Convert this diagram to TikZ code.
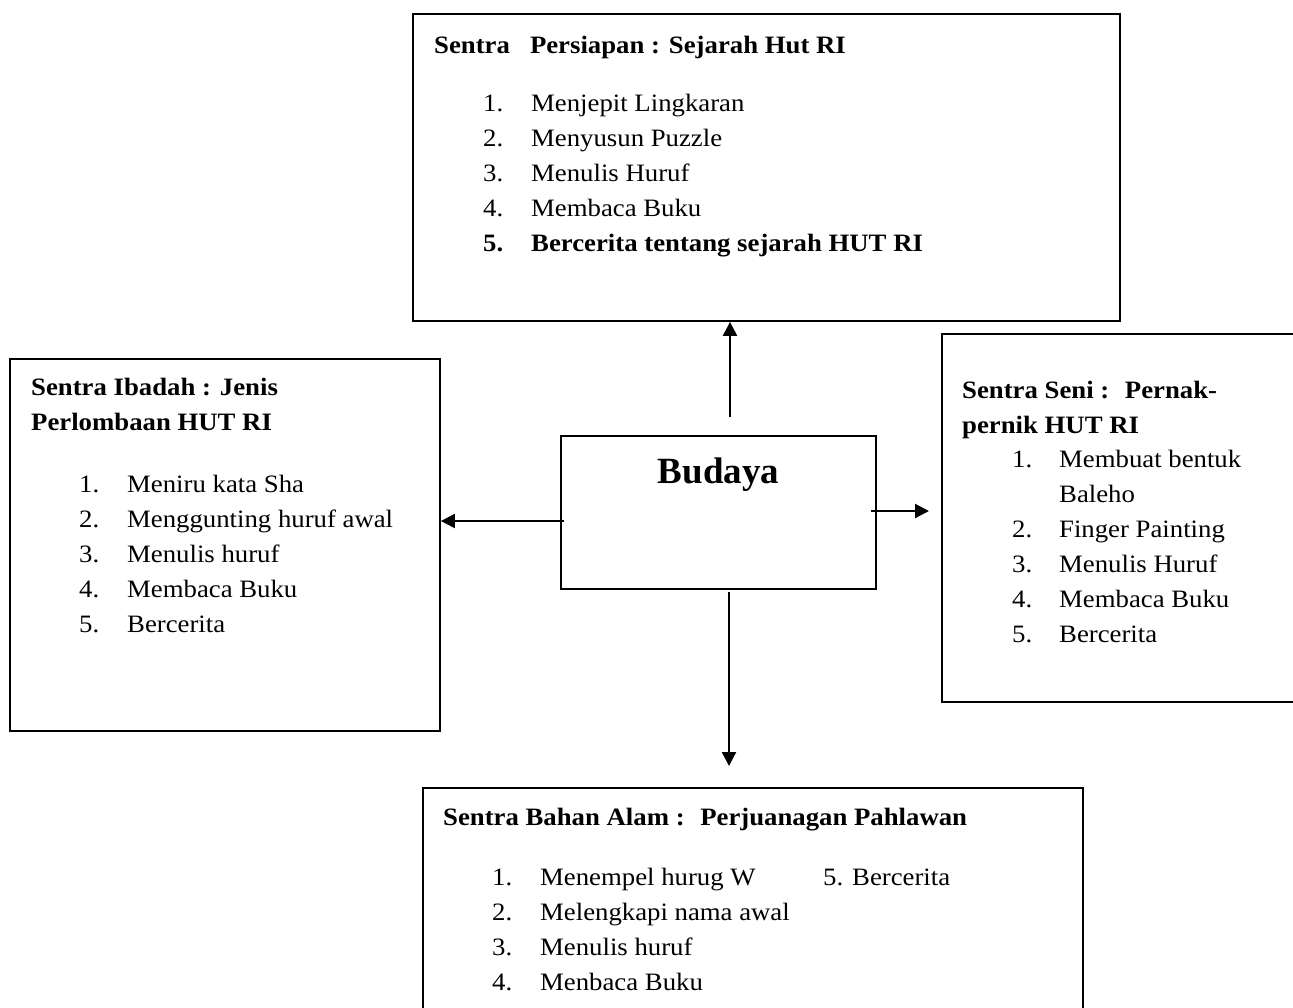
\documentclass[tikz,border=0pt]{standalone}
\usepackage{fontspec}
\setmainfont{Liberation Serif}[FakeStretch=1.07]
\newfontfamily\budfont{Liberation Serif}
\usetikzlibrary{arrows.meta}
\begin{document}
\begin{tikzpicture}[x=1pt,y=-1pt,
  box/.style={draw, line width=1.8pt, inner sep=0pt, rectangle},
  txt/.style={anchor=base west, inner sep=0pt, font=\fontsize{25}{35}\selectfont},
  arr/.style={line width=2.2pt, -{Triangle[length=14pt,width=14pt]}},
]
\useasboundingbox (0,0) rectangle (1293,1007);
\clip (0,0) rectangle (1293,1007);

% boxes
\node[box, minimum width=707, minimum height=307] (top) at (766.5,167.5) {};
\node[box, minimum width=430, minimum height=372] (left) at (225,545) {};
\node[box, minimum width=378, minimum height=368] (right) at (1131,518) {};
\node[box, minimum width=660, minimum height=242] (bottom) at (753,909) {};
\node[box, minimum width=315, minimum height=153] (bud) at (718.5,512.5) {};
\node[anchor=base, inner sep=0pt, font=\budfont\bfseries\fontsize{37}{40}\selectfont] (budlabel) at (718.5,483) {Budaya};

% top box text
\node[txt, font=\fontsize{25}{35}\selectfont\bfseries] (toptitle) at (434,53) {Sentra~~~Persiapan : Sejarah Hut RI};
\node[txt] (toplist) at (483,111) {\begin{tabular}[t]{@{}p{48pt}@{}l@{}}
1. & Menjepit Lingkaran\\
2. & Menyusun Puzzle\\
3. & Menulis Huruf\\
4. & Membaca Buku\\
\textbf{5.} & \textbf{Bercerita tentang sejarah HUT RI}
\end{tabular}};

% left box text
\node[txt, font=\fontsize{25}{35}\selectfont\bfseries] (lefttitle) at (31,395) {\begin{tabular}[t]{@{}l@{}}
Sentra Ibadah : Jenis\\
Perlombaan HUT RI
\end{tabular}};
\node[txt] (leftlist) at (79,492) {\begin{tabular}[t]{@{}p{48pt}@{}l@{}}
1. & Meniru kata Sha\\
2. & Menggunting huruf awal\\
3. & Menulis huruf\\
4. & Membaca Buku\\
5. & Bercerita
\end{tabular}};

% right box text
\node[txt, font=\fontsize{25}{35}\selectfont\bfseries] (righttitle) at (962,398) {\begin{tabular}[t]{@{}l@{}}
Sentra Seni :~ Pernak-\\
pernik HUT RI
\end{tabular}};
\node[txt] (rightlist) at (1012,467) {\begin{tabular}[t]{@{}p{47pt}@{}l@{}}
1. & Membuat bentuk\\
 & Baleho\\
2. & Finger Painting\\
3. & Menulis Huruf\\
4. & Membaca Buku\\
5. & Bercerita
\end{tabular}};

% bottom box text
\node[txt, font=\fontsize{25}{35}\selectfont\bfseries] (bottomtitle) at (443,825) {Sentra Bahan Alam :~ Perjuanagan Pahlawan};
\node[txt] (bottomlist) at (492,885) {\begin{tabular}[t]{@{}p{48pt}@{}l@{}}
1. & Menempel hurug W\\
2. & Melengkapi nama awal\\
3. & Menulis huruf\\
4. & Menbaca Buku
\end{tabular}};
\node[txt] (bottomfive) at (823,885) {5. Bercerita};

% connectors
\coordinate (upstart) at (730,417);
\coordinate (leftstart) at (564,521);
\coordinate (rightstart) at (871,511);
\coordinate (rightend) at (929,511);
\coordinate (downstart) at (729,592);
\coordinate (downend) at (729,766);
\draw[arr] (upstart) -- (upstart |- top.south);
\draw[arr] (leftstart) -- (leftstart -| left.east);
\draw[arr] (rightstart) -- (rightend);
\draw[arr] (downstart) -- (downend);
\end{tikzpicture}
\end{document}
